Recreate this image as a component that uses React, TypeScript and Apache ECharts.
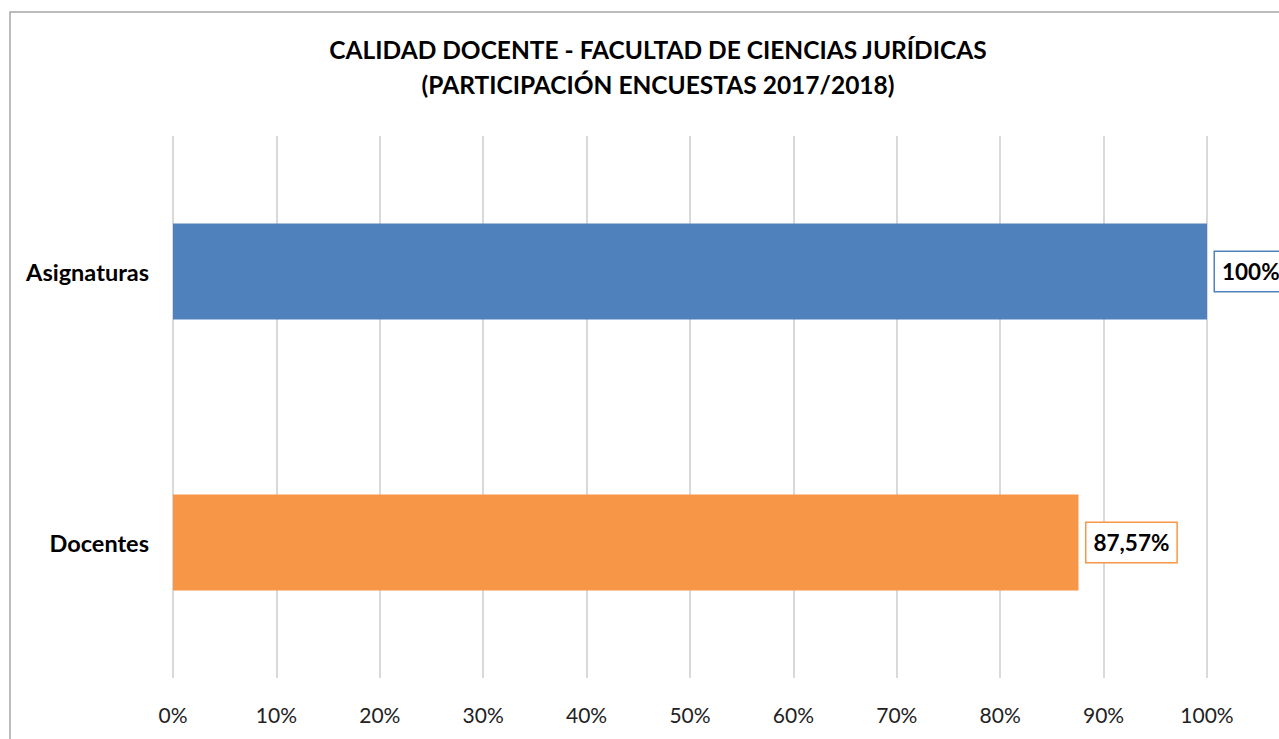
import React, { useEffect, useRef } from "react";
import * as echarts from "echarts";

const categories = ["Asignaturas", "Docentes"];
const values = [100, 87.57];
const barColors = ["#4F81BD", "#F79646"];
const titleLines = ["CALIDAD DOCENTE - FACULTAD DE CIENCIAS JURÍDICAS", "(PARTICIPACIÓN ENCUESTAS 2017/2018)"];

const FONT = "Lato, 'Open Sans', sans-serif";

export default function App() {
  const ref = useRef<HTMLDivElement>(null);
  useEffect(() => {
    if (!ref.current) return;
    const chart = echarts.init(ref.current, null, { renderer: "svg" });
    chart.setOption({
      animation: false,
      backgroundColor: "#ffffff",
      title: {
        text: titleLines.join("\n"),
        left: 653,
        textAlign: "center",
        top: 27,
        textStyle: { fontFamily: FONT, fontWeight: "bold", fontSize: 24.5, lineHeight: 35, color: "#000" },
      },
      graphic: [
        {
          type: "rect",
          shape: { x: 10, y: 12, width: 1400, height: 900 },
          style: { fill: "none", stroke: "#A6A6A6", lineWidth: 1.5 },
          silent: true,
        },
      ],
      grid: { left: 173, right: 72, top: 136, bottom: 61, containLabel: false },
      xAxis: {
        type: "value",
        min: 0,
        max: 100,
        interval: 10,
        axisLine: { show: false },
        axisTick: { show: false },
        splitLine: { show: true, lineStyle: { color: "#D9D9D9", width: 2 } },
        axisLabel: {
          formatter: (v: number) => `${v}%`,
          fontFamily: FONT,
          fontSize: 21,
          color: "#222",
          margin: 26,
        },
      },
      yAxis: {
        type: "category",
        data: categories,
        inverse: true,
        axisLine: { show: false },
        axisTick: { show: false },
        axisLabel: { fontFamily: FONT, fontSize: 23.5, fontWeight: "bold", color: "#000", margin: 24 },
      },
      series: [
        {
          type: "bar",
          data: values.map((v, i) => ({ value: v, itemStyle: { color: barColors[i] }, label: { borderColor: barColors[i] } })),
          barWidth: 96,
          label: {
            show: true,
            position: "right",
            distance: 8,
            formatter: (p: any) => `${String(p.value).replace(".", ",")}%`,
            fontFamily: FONT,
            fontSize: 22.5,
            fontWeight: "bold",
            color: "#000",
            backgroundColor: "#fff",
            borderWidth: 1.5,
            padding: [9, 7, 7, 7],
          },
        },
      ],
    });
    return () => chart.dispose();
  }, []);
  return <div ref={ref} style={{ position: "fixed", left: 0, top: 0, width: 1279, height: 739 }} />;
}
